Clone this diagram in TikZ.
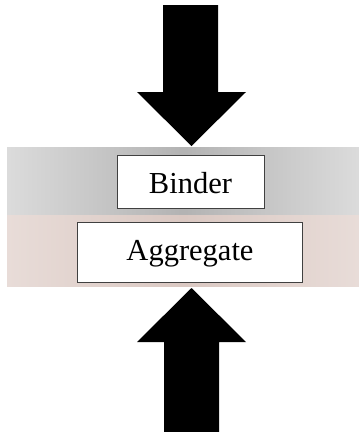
\documentclass[tikz,border=0pt]{standalone}
\usepackage{fontspec}
\setmainfont{Liberation Serif}
\begin{document}
\begin{tikzpicture}[x=1pt,y=-1pt,
  layerbox/.style={draw=black!75,line width=1.3pt,fill=white,inner sep=0pt,anchor=north west},
  layertext/.style={font=\fontsize{30.5}{36}\selectfont,anchor=base,inner sep=0pt},
  bigarrow/.style={fill=black,draw=none}]
\useasboundingbox (0,0) rectangle (359,432);
\fill[white] (0,0) rectangle (359,432);
% gray band
\shade[left color=black!14,right color=black!14,middle color=black!30] (7,147) rectangle (359,215);
% pink band
\shade[left color={rgb,255:red,232;green,220;blue,216},right color={rgb,255:red,232;green,220;blue,216},middle color={rgb,255:red,218;green,200;blue,194}] (7,215) rectangle (359,286);
% boxes
\node[layerbox,minimum width=147pt,minimum height=53pt] (binder) at (117,155) {};
\node[layertext] (bt) at (190.5,193) {Binder};
\node[layerbox,minimum width=225pt,minimum height=60pt] (agg) at (77,222) {};
\node[layertext] (at) at (190,260) {Aggregate};
% arrows
\coordinate (ttip) at (191.5,146);
\coordinate (btip) at (191.5,288);
\fill[bigarrow] (163,5) -- (218,5) -- (218,92) -- (246,92) -- (ttip) -- (137,92) -- (163,92) -- cycle;
\fill[bigarrow] (164,432) -- (219,432) -- (219,342) -- (246,342) -- (btip) -- (137,342) -- (164,342) -- cycle;
\end{tikzpicture}
\end{document}
